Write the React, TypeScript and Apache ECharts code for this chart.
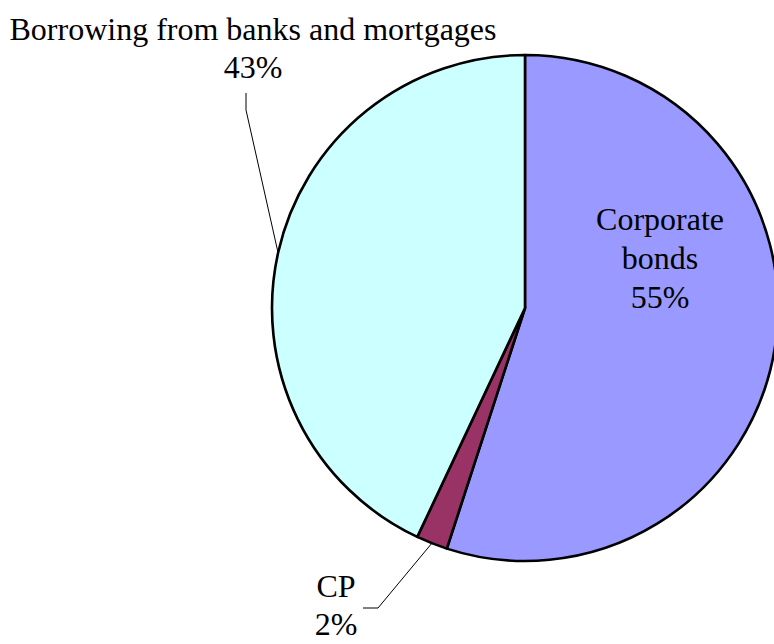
import React, { useEffect, useRef } from "react";
import * as echarts from "echarts";

const categories = ["Corporate bonds", "CP", "Borrowing from banks and mortgages"];
const shares = [55, 2, 43];
const labelTexts = ["Corporate\nbonds\n55%", "CP\n2%", "Borrowing from banks and mortgages\n43%"];
const colors = ["#9999FF", "#993366", "#CCFFFF"];

// label anchor positions (label centres)
const labelPos: number[][] = [
  [660, 258],
  [336, 605],
  [253, 48],
];

export default function App() {
  const ref = useRef<HTMLDivElement>(null);
  useEffect(() => {
    if (!ref.current) return;
    const chart = echarts.init(ref.current, undefined, { renderer: "svg" });
    const font = "'Liberation Serif', 'Times New Roman', serif";
    const total = shares.reduce((a, b) => a + b, 0);
    const cx = 525, cy = 308, r = 253;
    const midPoint = (i: number) => {
      let before = 0;
      for (let k = 0; k < i; k++) before += shares[k];
      const ang = ((before + shares[i] / 2) / total) * Math.PI * 2;
      return [cx + r * Math.sin(ang), cy - r * Math.cos(ang)];
    };
    chart.setOption({
      animation: false,
      backgroundColor: "#ffffff",
      series: [
        {
          type: "pie",
          center: [cx, cy],
          radius: r,
          startAngle: 90,
          clockwise: true,
          avoidLabelOverlap: false,
          itemStyle: { borderColor: "#000000", borderWidth: 2.6 },
          label: {
            show: true,
            position: "outside",
            color: "#000000",
            fontFamily: font,
            fontSize: 32,
            lineHeight: 38,
            align: "center",
            formatter: (p: any) => labelTexts[p.dataIndex],
          },
          labelLine: {
            show: true,
            length: 20,
            length2: 20,
            lineStyle: { color: "#000000", width: 1 },
          },
          emphasis: { disabled: true },
          labelLayout: (params: any) => {
            const i = params.dataIndex;
            const [x, y] = labelPos[i];
            const base: any = { x, y, align: "center", verticalAlign: "middle" };
            const p0 =
              params.labelLinePoints && params.labelLinePoints[0]
                ? params.labelLinePoints[0]
                : midPoint(i);
            if (i === 1) {
              base.labelLinePoints = [p0, [378, 608], [363, 608]];
            } else if (i === 2) {
              base.labelLinePoints = [p0, [246, 110], [246, 93]];
            }
            return base;
          },
          data: categories.map((name, i) => ({
            name,
            value: shares[i],
            itemStyle: { color: colors[i] },
            label: i === 0 ? { position: "inside", lineHeight: 39 } : undefined,
            labelLine: i === 0 ? { show: false } : undefined,
          })),
        },
      ],
    });
    return () => chart.dispose();
  }, []);
  return (
    <div
      ref={ref}
      style={{ position: "fixed", left: 0, top: 0, width: 774, height: 644 }}
    />
  );
}
